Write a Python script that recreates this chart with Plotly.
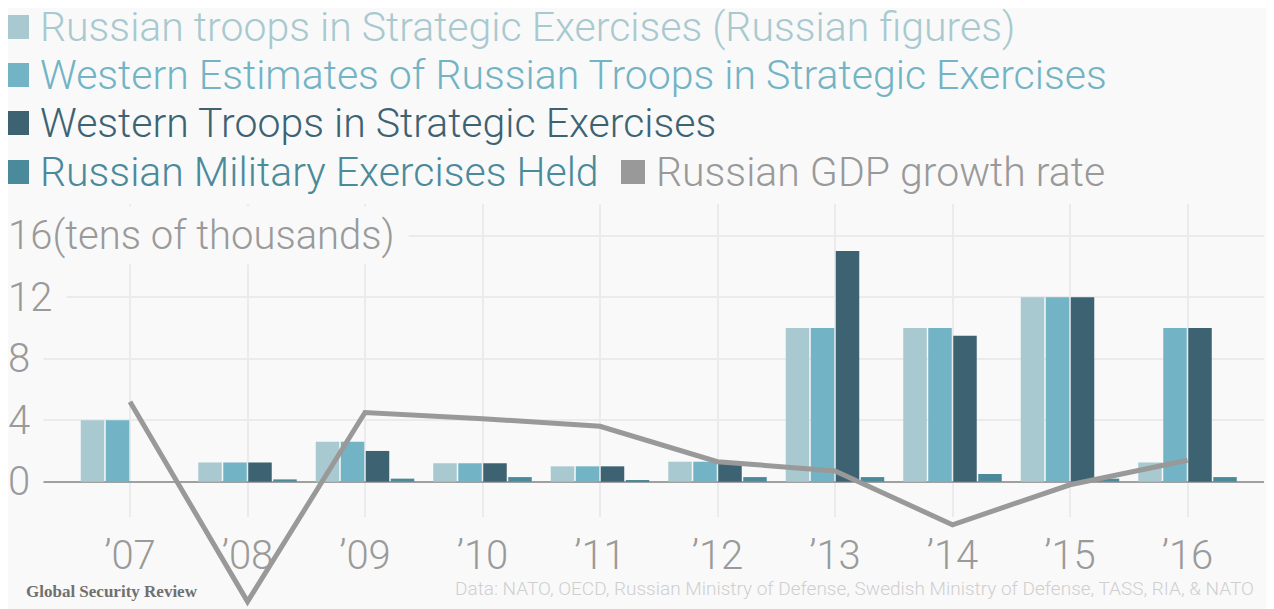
import plotly.graph_objects as go

# ---------------- data ----------------
years = ["’07", "’08", "’09", "’10", "’11", "’12", "’13", "’14", "’15", "’16"]
russian_figures = [4.0, 1.25, 2.6, 1.2, 1.0, 1.3, 10, 10, 12, 1.25]
western_estimates = [4.0, 1.25, 2.6, 1.2, 1.0, 1.3, 10, 10, 12, 10]
western_troops = [None, 1.25, 2.0, 1.2, 1.0, 1.3, 15, 9.5, 12, 10]
exercises_held = [None, 0.15, 0.2, 0.3, 0.1, 0.3, 0.3, 0.5, 0.2, 0.3]
gdp_growth = [5.2, -7.8, 4.5, 4.1, 3.6, 1.3, 0.7, -2.8, -0.2, 1.4]

y_tickvals = [0, 4, 8, 12, 16]
y_ticktext = ["0", "4", "8", "12", "16(tens of thousands)"]

series_names = [
    "Russian troops in Strategic Exercises (Russian figures)",
    "Western Estimates of Russian Troops in Strategic Exercises",
    "Western Troops in Strategic Exercises",
    "Russian Military Exercises Held",
    "Russian GDP growth rate",
]
colors = ["#a8c9cf", "#72b3c5", "#3d6373", "#4a8a9b", "#999999"]

# ---------------- layout geometry ----------------
# the page body adds an 8px offset; positions below are in screen pixels
OFF = 8
W, H = 1274, 609
ML = 37 - OFF
MT = 204 - OFF
MR = W - (1264 - OFF)
MB = 0
PW, PH = W - ML - MR, H - MT - MB
BG = "#f9f9f9"
FONT = "Roboto"


def px_x(p):
    return (p - OFF - ML) / PW


def px_y(p):
    return (H - (p - OFF)) / PH


SCALE = 15.375
ZERO = 481.7
x_range = [-0.7915, 9.651]
y_range = [(ZERO - 517) / SCALE, (ZERO - 204) / SCALE]
y2_range = [(ZERO - (H + OFF)) / SCALE, (ZERO - 204) / SCALE]
main_bottom = px_y(517)

fig = go.Figure()

bar_series = [russian_figures, western_estimates, western_troops, exercises_held]
for vals, name, col in zip(bar_series, series_names[:4], colors[:4]):
    fig.add_trace(go.Bar(x=years, y=vals, name=name, marker_color=col,
                         marker_line_width=0, showlegend=False,
                         xaxis="x", yaxis="y"))

fig.add_trace(go.Scatter(x=years, y=gdp_growth, name=series_names[4], mode="lines",
                         line=dict(color=colors[4], width=5),
                         showlegend=False, xaxis="x2", yaxis="y2"))

annotations = []
# y tick labels with background masks
for v, t in zip(y_tickvals, y_ticktext):
    annotations.append(dict(
        xref="paper", yref="y", x=0, y=v, xshift=-ML - 6, xanchor="left", yanchor="middle",
        text=t + "\u2009", showarrow=False, bgcolor=BG, borderpad=5,
        font=dict(family=FONT, size=40, color="#9a9a9a", weight=300)))

# legend (manual)
legend_rows = [
    (0, 41, 27),
    (1, 41, 75),
    (2, 41, 123),
    (3, 41, 172),
    (4, 657, 172),
]
shapes = []
for idx, tx, cy in legend_rows:
    annotations.append(dict(
        xref="paper", yref="paper", x=px_x(tx - 3), y=px_y(cy), xanchor="left", yanchor="middle",
        text=series_names[idx], showarrow=False,
        font=dict(family=FONT, size=41, color=colors[idx], weight=300)))
    shapes.append(dict(type="rect", xref="paper", yref="paper",
                       x0=px_x(max(tx - 36, OFF)), x1=px_x(tx - 12),
                       y0=px_y(cy - 12), y1=px_y(cy + 12),
                       fillcolor=colors[idx], line_width=0, layer="above"))

annotations.append(dict(
    xref="paper", yref="paper", x=px_x(24), y=px_y(591), xanchor="left", yanchor="middle",
    text="Global Security Review", showarrow=False,
    font=dict(family="Liberation Serif", size=17, color="#707070", weight=700)))
annotations.append(dict(
    xref="paper", yref="paper", x=px_x(1256), y=px_y(588), xanchor="right", yanchor="middle",
    text="Data: NATO, OECD, Russian Ministry of Defense, Swedish Ministry of Defense, TASS, RIA, & NATO",
    showarrow=False, font=dict(family=FONT, size=19, color="#cfcfcf", weight=300)))

fig.update_layout(
    width=W, height=H, autosize=False,
    margin=dict(l=ML, r=MR, t=MT, b=MB, pad=0),
    paper_bgcolor=BG, plot_bgcolor="rgba(0,0,0,0)",
    barmode="group", bargap=0.149, bargroupgap=0.06,
    showlegend=False,
    xaxis=dict(type="category", range=x_range, domain=[0, 1], anchor="y",
               showgrid=True, gridcolor="#ebebeb", gridwidth=2,
               showline=False, zeroline=False, ticks="",
               ticklabelstandoff=11,
               tickfont=dict(family=FONT, size=40, color="#9a9a9a", weight=300)),
    yaxis=dict(range=y_range, domain=[main_bottom, 1], anchor="x",
               tickvals=y_tickvals, showticklabels=False,
               showgrid=True, gridcolor="#ebebeb", gridwidth=2,
               zeroline=True, zerolinecolor="#a0a0a0", zerolinewidth=2,
               showline=False, ticks=""),
    xaxis2=dict(type="category", range=x_range, domain=[0, 1], anchor="y2",
                visible=False, showgrid=False),
    yaxis2=dict(range=y2_range, domain=[0, 1], anchor="x2",
                visible=False, showgrid=False, zeroline=False),
    annotations=annotations,
    shapes=shapes,
)

fig.write_html("out.html")
